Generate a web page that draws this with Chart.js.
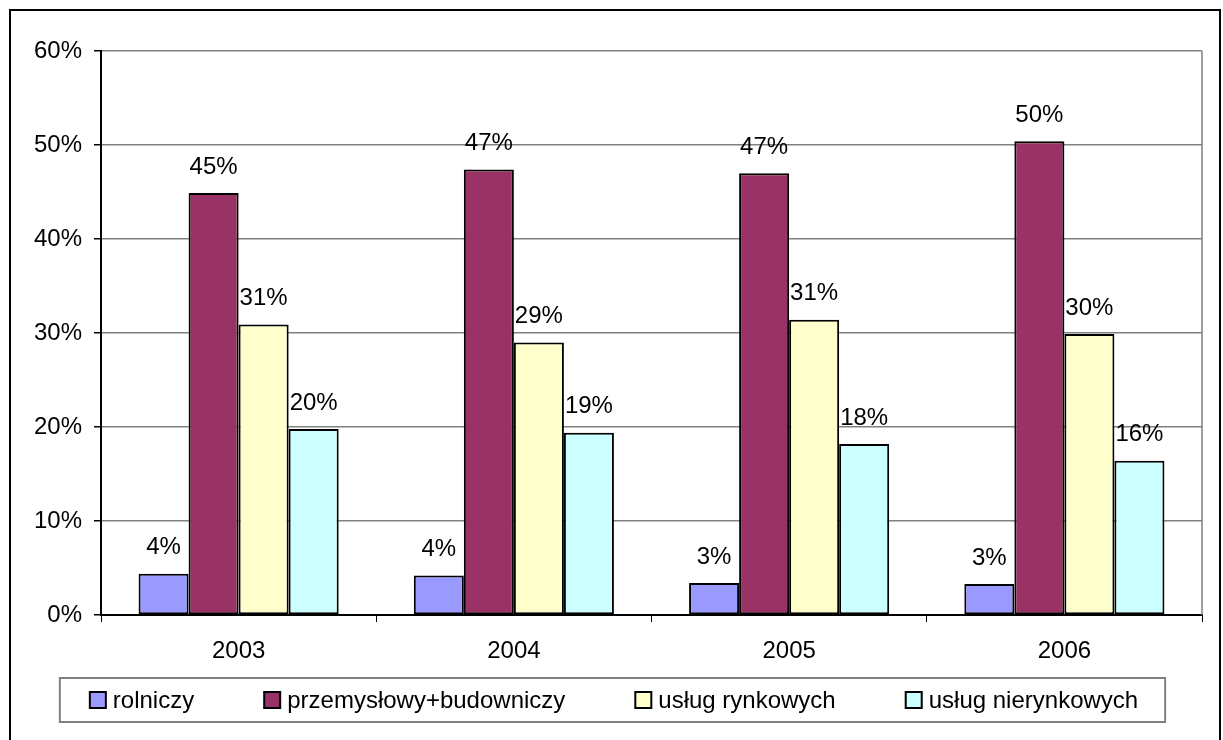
<!DOCTYPE html>
<html>
<head>
<meta charset="utf-8">
<script src="https://cdn.jsdelivr.net/npm/chart.js@4.4.1/dist/chart.umd.min.js"></script>
<style>
  html, body { margin: 0; padding: 0; background: #fff; overflow: hidden; }
  #frame { position: absolute; left: 9px; top: 9px; width: 1208px; height: 800px; border: 2px solid #000; }
  #wrap { position: absolute; left: 0; top: 0; width: 1223px; height: 740px; }
</style>
</head>
<body>
<div id="frame"></div>
<div id="wrap"><canvas id="chart" width="1223" height="740"></canvas></div>
<script>
const years = ["2003", "2004", "2005", "2006"];
const rolniczy = [4.4, 4.2, 3.4, 3.3];
const przemyslowy = [44.9, 47.4, 47.0, 50.4];
const rynkowych = [30.9, 29.0, 31.4, 29.9];
const nierynkowych = [19.8, 19.4, 18.2, 16.4];
const seriesNames = ["rolniczy", "przemysłowy+budowniczy", "usług rynkowych", "usług nierynkowych"];
const seriesColors = ["#9999FF", "#993366", "#FFFFCC", "#CCFFFF"];
const yMin = 0;
const yMax = 60;
const yStep = 10;

const FONT = '"Liberation Sans", Arial, sans-serif';
const FS = 24;
Chart.defaults.font.family = FONT;
Chart.defaults.font.size = FS;
Chart.defaults.color = "#000";

// labels above bars (rounded like Excel's 0% format)
const barLabels = {
  id: "barLabels",
  afterDatasetsDraw(chart) {
    const ctx = chart.ctx;
    ctx.save();
    ctx.font = FS + "px " + FONT;
    ctx.fillStyle = "#000";
    ctx.textAlign = "center";
    ctx.textBaseline = "middle";
    chart.data.datasets.forEach((ds, i) => {
      chart.getDatasetMeta(i).data.forEach((bar, j) => {
        ctx.fillText(Math.round(ds.data[j]) + "%", bar.x, bar.y - 26);
      });
    });
    ctx.restore();
  },
};

// excel-like legend in a box under the axis, plus right edge of plot area
const boxLegend = {
  id: "boxLegend",
  afterDraw(chart) {
    const ctx = chart.ctx;
    const a = chart.chartArea;
    ctx.save();
    ctx.strokeStyle = "#808080";
    ctx.lineWidth = 1.5;
    ctx.beginPath();
    ctx.moveTo(a.right, a.top);
    ctx.lineTo(a.right, a.bottom);
    ctx.stroke();

    ctx.font = FS + "px " + FONT;
    const sw = 16, txtGap = 7, itemGap = 70, padL = 30, padR = 27;
    const cy = 700;
    const items = chart.data.datasets.map((ds) => ({
      label: ds.label,
      color: ds.backgroundColor,
      w: sw + txtGap + ctx.measureText(ds.label).width,
    }));
    const total = items.reduce((s, it) => s + it.w, 0) + itemGap * (items.length - 1);
    const cx = 614;
    let x = cx - total / 2;

    ctx.lineWidth = 2;
    ctx.strokeStyle = "#808080";
    ctx.strokeRect(x - padL, cy - 22, total + padL + padR, 44);

    ctx.textBaseline = "middle";
    ctx.textAlign = "left";
    items.forEach((it) => {
      ctx.fillStyle = it.color;
      ctx.fillRect(x, cy - 8, sw, sw);
      ctx.strokeStyle = "#000";
      ctx.lineWidth = 2;
      ctx.strokeRect(x, cy - 8, sw, sw);
      ctx.fillStyle = "#000";
      ctx.fillText(it.label, x + sw + txtGap, cy + 1);
      x += it.w + itemGap;
    });
    ctx.restore();
  },
};

const mkSet = (i, data) => ({
  label: seriesNames[i],
  data,
  backgroundColor: seriesColors[i],
  borderColor: "#000",
  borderWidth: 2,
  borderSkipped: false,
});

new Chart(document.getElementById("chart"), {
  type: "bar",
  data: {
    labels: years,
    datasets: [
      mkSet(0, rolniczy),
      mkSet(1, przemyslowy),
      mkSet(2, rynkowych),
      mkSet(3, nierynkowych),
    ],
  },
  options: {
    responsive: false,
    animation: false,
    devicePixelRatio: 1,
    layout: { padding: { left: 0, right: 21, top: 51, bottom: 62 } },
    datasets: {
      bar: { categoryPercentage: 0.727, barPercentage: 1 },
    },
    plugins: {
      legend: { display: false },
      tooltip: { enabled: false },
    },
    scales: {
      x: {
        offset: true,
        grid: {
          offset: true,
          drawOnChartArea: false,
          drawTicks: true,
          tickLength: 7,
          tickColor: "#000",
        },
        border: { color: "#000", width: 2 },
        ticks: { padding: 15, color: "#000" },
        afterFit: (s) => { s.height = 63; },
      },
      y: {
        min: yMin,
        max: yMax,
        ticks: {
          stepSize: yStep,
          padding: 12,
          color: "#000",
          callback: (v) => v + "%",
        },
        grid: {
          color: "#808080",
          lineWidth: 1.5,
          tickLength: 7,
          tickColor: "#000",
        },
        border: { color: "#000", width: 2 },
        afterFit: (s) => { s.width = 101; },
      },
    },
  },
  plugins: [barLabels, boxLegend],
});
</script>
</body>
</html>
